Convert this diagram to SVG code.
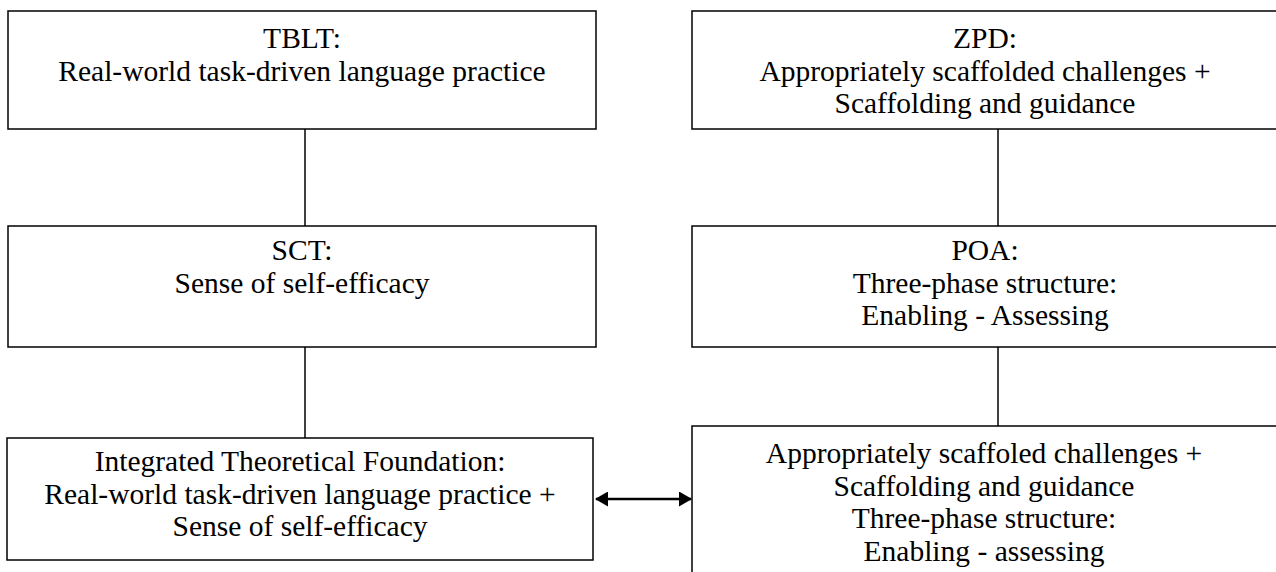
<svg xmlns="http://www.w3.org/2000/svg" width="1276" height="572" viewBox="0 0 1276 572">
<defs>
<style>
.box{fill:#fff;stroke:#000;stroke-width:1.5}
.t{font-family:"Liberation Serif",serif;font-size:29.5px;fill:#000;text-anchor:middle}
.c{stroke:#000;stroke-width:1.5;fill:none}
.a{stroke:#000;stroke-width:2.4;fill:none}
</style>
<marker id="ah" viewBox="0 0 13 15" refX="12" refY="7.5" markerWidth="13" markerHeight="15" markerUnits="userSpaceOnUse" orient="auto-start-reverse">
<path d="M0,0 L13,7.5 L0,15 z" fill="#000"/>
</marker>
</defs>
<rect width="1276" height="572" fill="#fff"/>
<g id="connectors">
<line class="c" x1="305" y1="129" x2="305" y2="226"/>
<line class="c" x1="305" y1="347" x2="305" y2="438"/>
<line class="c" x1="998" y1="129" x2="998" y2="226"/>
<line class="c" x1="998" y1="347" x2="998" y2="426"/>
<line class="a" x1="596" y1="499" x2="691" y2="499" marker-start="url(#ah)" marker-end="url(#ah)"/>
</g>
<g id="tblt">
<rect class="box" x="8" y="11" width="588" height="118"/>
<text class="t" x="302" y="48">TBLT:</text>
<text class="t" x="302" y="80.5">Real-world task-driven language practice</text>
</g>
<g id="zpd">
<rect class="box" x="692" y="11" width="600" height="118"/>
<text class="t" x="985" y="48">ZPD:</text>
<text class="t" x="985" y="80.5">Appropriately scaffolded challenges +</text>
<text class="t" x="985" y="113">Scaffolding and guidance</text>
</g>
<g id="sct">
<rect class="box" x="8" y="226" width="588" height="121"/>
<text class="t" x="302" y="260">SCT:</text>
<text class="t" x="302" y="292.5">Sense of self-efficacy</text>
</g>
<g id="poa">
<rect class="box" x="692" y="226" width="600" height="121"/>
<text class="t" x="985" y="260">POA:</text>
<text class="t" x="985" y="292.5">Three-phase structure:</text>
<text class="t" x="985" y="325">Enabling - Assessing</text>
</g>
<g id="integrated">
<rect class="box" x="7" y="438" width="586" height="122"/>
<text class="t" x="300" y="471">Integrated Theoretical Foundation:</text>
<text class="t" x="300" y="503.5">Real-world task-driven language practice +</text>
<text class="t" x="300" y="536">Sense of self-efficacy</text>
</g>
<g id="combined">
<rect class="box" x="692" y="426" width="600" height="170"/>
<text class="t" x="984" y="463">Appropriately scaffoled challenges +</text>
<text class="t" x="984" y="495.5">Scaffolding and guidance</text>
<text class="t" x="984" y="528">Three-phase structure:</text>
<text class="t" x="984" y="560.5">Enabling - assessing</text>
</g>
</svg>
